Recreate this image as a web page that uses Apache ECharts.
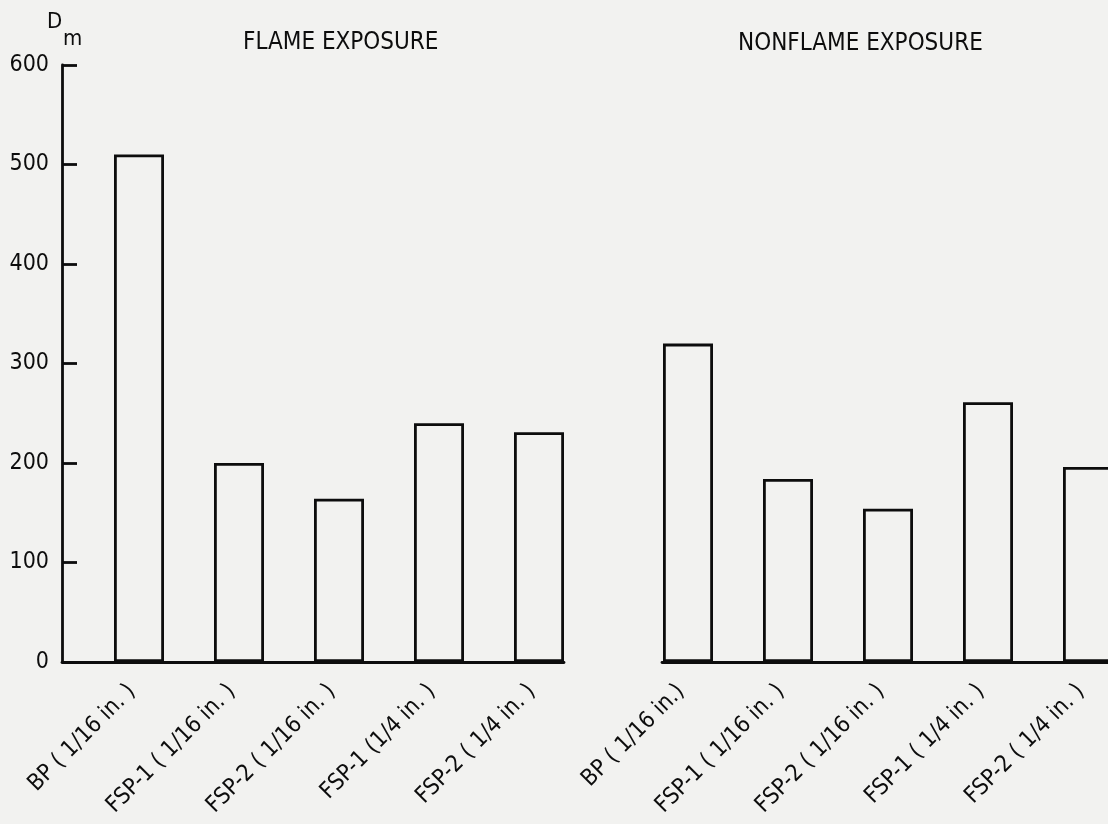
<!DOCTYPE html>
<html>
<head>
<meta charset="utf-8">
<script src="https://cdn.jsdelivr.net/npm/echarts@6/dist/echarts.min.js"></script>
<style>
  html, body { margin: 0; padding: 0; background: #f2f2f0; }
  #chart { width: 1108px; height: 824px; }
</style>
</head>
<body>
<div id="chart"></div>
<script>
// ---- data ----
const flameCategories = ['BP ( 1/16 in. )', 'FSP-1 ( 1/16 in. )', 'FSP-2 ( 1/16 in. )', 'FSP-1 (1/4 in. )', 'FSP-2 ( 1/4 in. )'];
const flameValues = [510, 200, 164, 240, 231];
const nonflameCategories = ['BP ( 1/16 in.)', 'FSP-1 ( 1/16 in. )', 'FSP-2 ( 1/16 in. )', 'FSP-1 ( 1/4 in. )', 'FSP-2 ( 1/4 in. )'];
const nonflameValues = [320, 184, 154, 261, 196];
const yTicks = [0, 100, 200, 300, 400, 500, 600];
const panelTitles = ['FLAME EXPOSURE', 'NONFLAME EXPOSURE'];
const yAxisTitle = 'D';
const yAxisSub = 'm';

// ---- style ----
const INK = '#0d0d0d';
const FONT = "'DejaVu Sans Condensed', 'Liberation Sans Narrow', 'Open Sans', sans-serif";
const LW = 2.8;

const chart = echarts.init(document.getElementById('chart'), null, { renderer: 'canvas' });

function xAxisFor(gridIndex, cats, min, max) {
  return {
    type: 'value',
    gridIndex: gridIndex,
    min: min,
    max: max,
    axisLine: { show: true, onZero: false, lineStyle: { color: INK, width: LW } },
    axisTick: { show: false },
    splitLine: { show: false },
    axisLabel: {
      customValues: cats.map((c, i) => i),
      formatter: v => cats[Math.round(v)],
      rotate: 45,
      margin: 19,
      padding: [0, 10, 0, 0],
      fontSize: 23,
      fontFamily: FONT,
      color: INK
    }
  };
}

function barSeries(idx, values) {
  return {
    type: 'bar',
    xAxisIndex: idx,
    yAxisIndex: idx,
    barWidth: 50,
    data: values.map((v, i) => [i, v]),
    itemStyle: { color: 'rgba(0,0,0,0)', borderColor: INK, borderWidth: LW },
    emphasis: { disabled: true },
    silent: true
  };
}

const option = {
  backgroundColor: '#f2f2f0',
  animation: false,
  grid: [
    { left: 62, top: 65, bottom: 162, width: 502 },
    { left: 662, top: 65, bottom: 162, width: 446 }
  ],
  xAxis: [
    xAxisFor(0, flameCategories, -0.77, 4.25),
    xAxisFor(1, nonflameCategories, -0.26, 4.20)
  ],
  yAxis: [
    {
      type: 'value', gridIndex: 0, min: yTicks[0], max: yTicks[yTicks.length - 1], interval: 100,
      axisLine: { show: true, onZero: false, lineStyle: { color: INK, width: LW } },
      axisTick: { show: true, inside: true, length: 15, lineStyle: { color: INK, width: LW } },
      axisLabel: { margin: 13, fontSize: 23, fontFamily: FONT, color: INK },
      splitLine: { show: false }
    },
    {
      type: 'value', gridIndex: 1, min: yTicks[0], max: yTicks[yTicks.length - 1], interval: 100,
      show: false
    }
  ],
  graphic: [
    { type: 'text', left: 243, top: 31, style: { text: panelTitles[0], font: "24px " + FONT, fill: INK } },
    { type: 'text', left: 738, top: 32, style: { text: panelTitles[1], font: "24px " + FONT, fill: INK } },
    { type: 'text', left: 47, top: 11, style: { text: yAxisTitle, font: "22px " + FONT, fill: INK } },
    { type: 'text', left: 63, top: 28, style: { text: yAxisSub, font: "22px " + FONT, fill: INK } }
  ],
  series: [
    barSeries(0, flameValues),
    barSeries(1, nonflameValues)
  ]
};

chart.setOption(option);
</script>
</body>
</html>
